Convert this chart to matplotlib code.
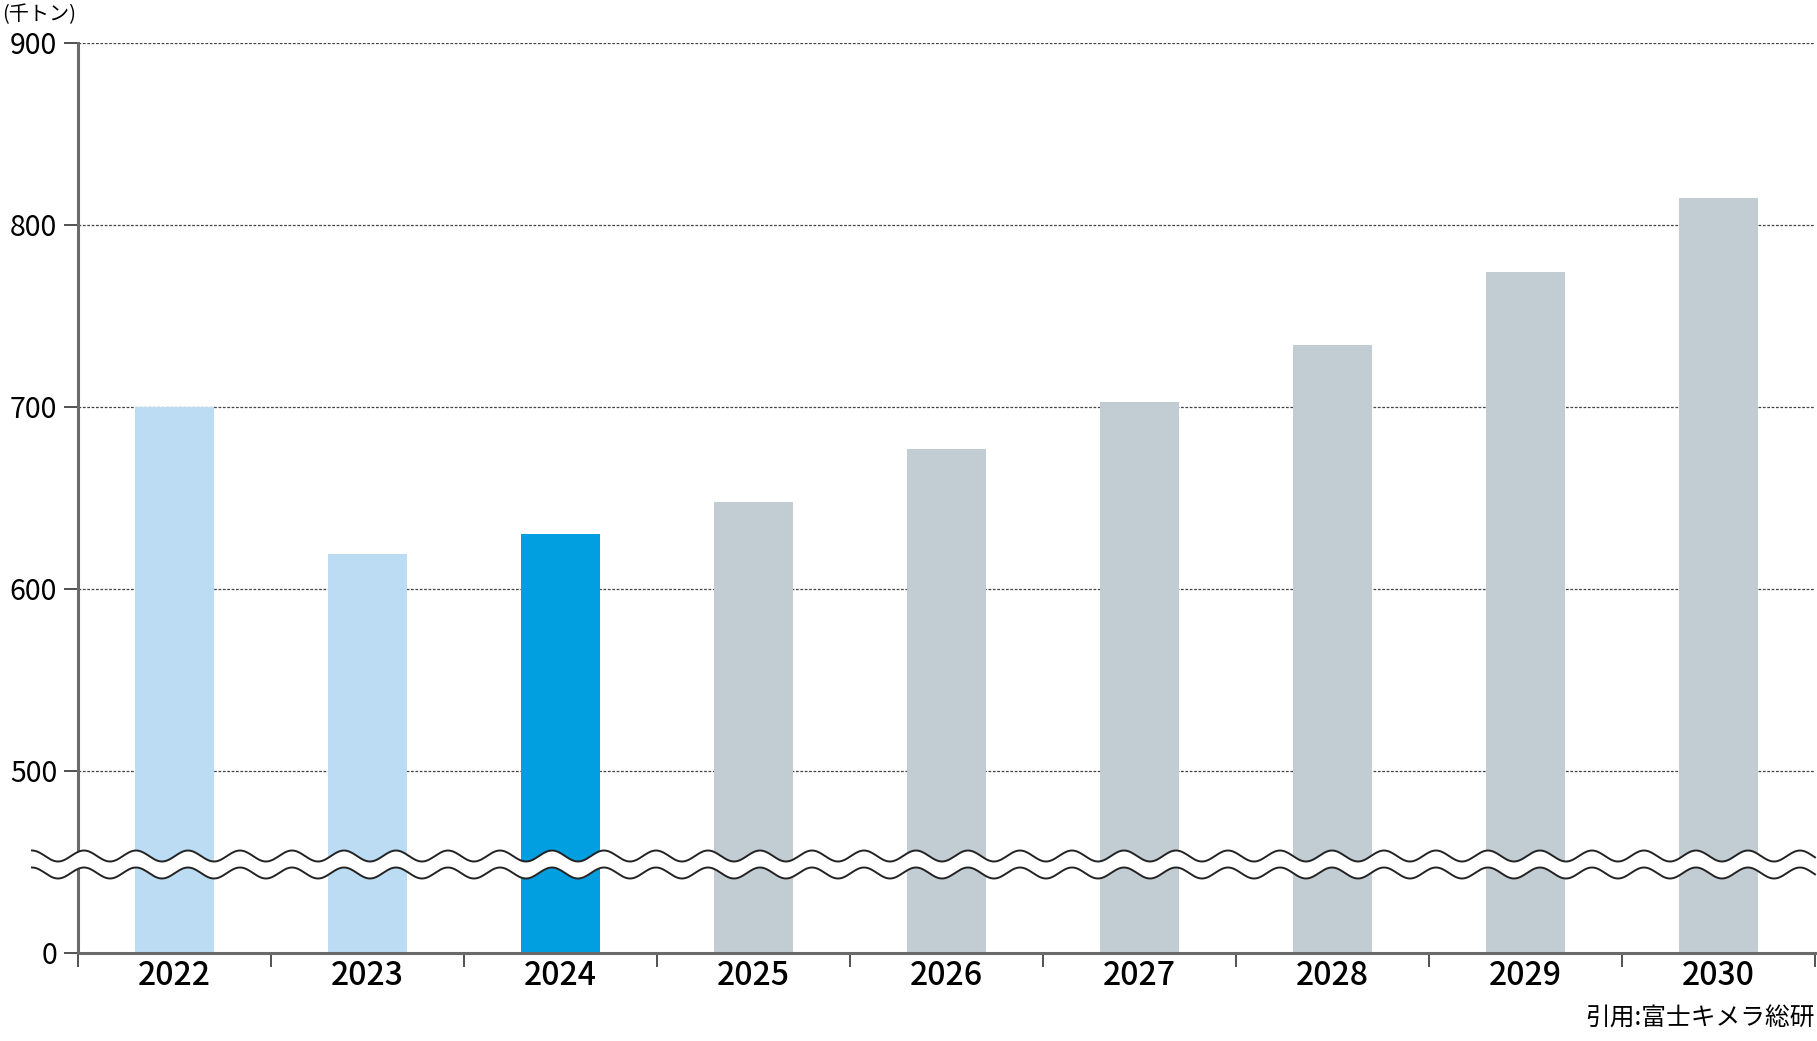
import numpy as np
import matplotlib
matplotlib.use("Agg")
import matplotlib.pyplot as plt

plt.rcParams['font.family'] = ['Noto Sans CJK JP', 'DejaVu Sans']

# Data (thousand tons)
years = ["2022", "2023", "2024", "2025", "2026", "2027", "2028", "2029", "2030"]
values = [700, 619, 630, 648, 677, 703, 734, 774, 815]
colors = ["#BBDCF3", "#BBDCF3", "#019EE0", "#C2CCD3", "#C2CCD3",
          "#C2CCD3", "#C2CCD3", "#C2CCD3", "#C2CCD3"]
ytick_vals = [0, 500, 600, 700, 800, 900]


# Broken axis: 0-500 squeezed into the same height as 100 units above 500
def fwd(v):
    v = np.asarray(v, dtype=float)
    return np.where(v < 500, v / 5.0, v - 400.0)


def inv(y):
    y = np.asarray(y, dtype=float)
    return np.where(y < 100, y * 5.0, y + 400.0)


W, H = 1817, 1041
fig = plt.figure(figsize=(W / 100, H / 100), dpi=100)
ax_l, ax_r, ax_b, ax_t = 78 / W, 1815 / W, 1 - 953 / H, 1 - 43 / H
ax = fig.add_axes([ax_l, ax_b, ax_r - ax_l, ax_t - ax_b])

ax.set_yscale('function', functions=(fwd, inv))
x = np.arange(len(years))
ax.bar(x, values, width=0.41, color=colors, zorder=2)

ax.set_ylim(0, 900)
ax.set_xlim(-0.5, len(years) - 0.5)
ax.set_yticks(ytick_vals)
ax.set_yticklabels([str(v) for v in ytick_vals], fontsize=20.5)
ax.yaxis.set_minor_locator(matplotlib.ticker.NullLocator())

# x ticks at category boundaries, labels at centres
ax.set_xticks(np.arange(-0.5, len(years)), labels=[""] * (len(years) + 1))
ax.set_xticks(x, labels=years, minor=True)
ax.tick_params(axis='x', which='major', length=10, width=1.2, color='#333333', direction='out')
ax.tick_params(axis='x', which='minor', length=0, pad=5, labelsize=23)
for lab in ax.get_xticklabels(minor=True):
    lab.set_fontweight('medium')
ax.tick_params(axis='y', length=10, width=1.2, color='#333333', pad=5)

ax.grid(axis='y', linestyle=(0, (2.2, 1.3)), color='#444444', linewidth=0.9, zorder=0)
ax.set_axisbelow(True)

for s in ['top', 'right']:
    ax.spines[s].set_visible(False)
for s in ['left', 'bottom']:
    ax.spines[s].set_color('#6a6a6a')
    ax.spines[s].set_linewidth(2.2)
    ax.spines[s].set_zorder(3)

# Wavy break band (pixel geometry converted to axes fraction)
ax_w = 1737.0
ax_h = 910.0
xs_px = np.linspace(32, 1815, 2000)
wave_len = 52.0
amp = 5.5
phase = np.cos(2 * np.pi * (xs_px - 32) / wave_len) * amp
upper_px = (953 - 856) + phase
lower_px = (953 - 873) + phase
xs_ax = (xs_px - 78) / ax_w
ax.fill_between(xs_ax, lower_px / ax_h, upper_px / ax_h, color='white',
                transform=ax.transAxes, clip_on=False, zorder=4, linewidth=0)
ax.plot(xs_ax, upper_px / ax_h, color='#222222', lw=1.4,
        transform=ax.transAxes, clip_on=False, zorder=5)
ax.plot(xs_ax, lower_px / ax_h, color='#222222', lw=1.4,
        transform=ax.transAxes, clip_on=False, zorder=5)

fig.text(2 / W, 1 - 15 / H, "(千トン)", fontsize=14.5, ha='left', va='center')
fig.text(1815 / W, 1 - 1019 / H, "引用:富士キメラ総研", fontsize=17.8, ha='right', va='center')

fig.savefig("out.png", dpi=100)
